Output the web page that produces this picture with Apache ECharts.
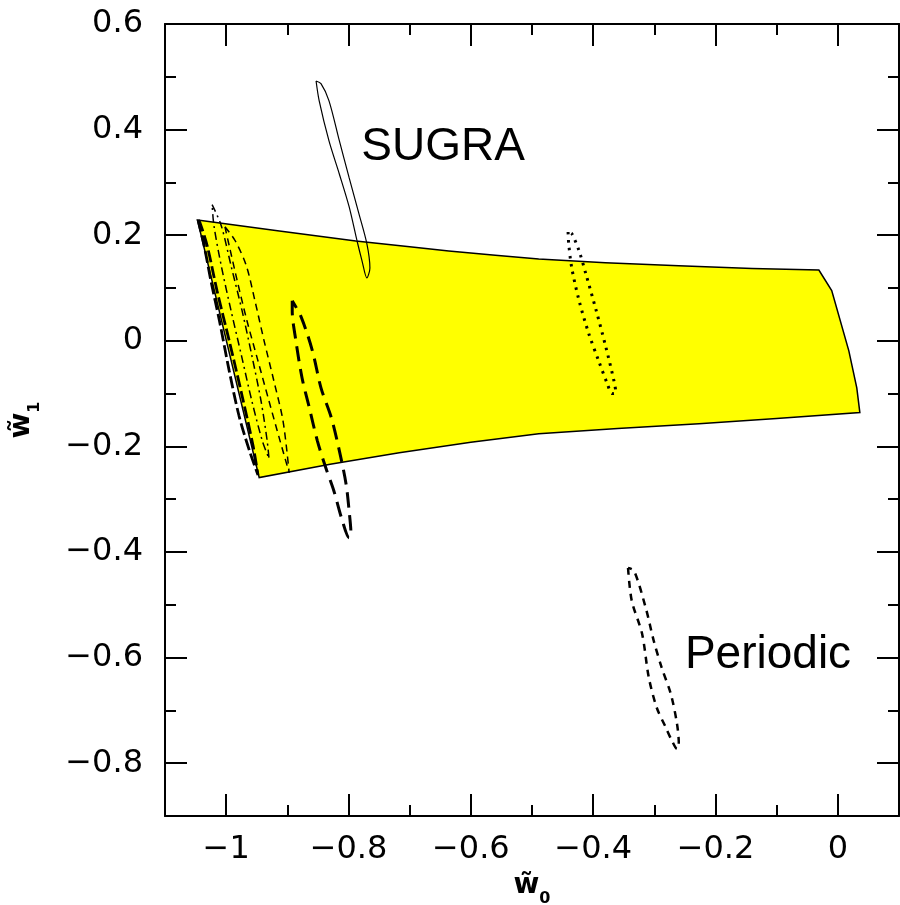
<!DOCTYPE html>
<html>
<head>
<meta charset="utf-8">
<script src="https://cdn.jsdelivr.net/npm/echarts@6/dist/echarts.min.js"></script>
<style>
  html, body { margin: 0; padding: 0; background: #fff; }
  #chart { width: 900px; height: 905px; }
</style>
</head>
<body>
<div id="chart"></div>
<script>
// Axis ranges and tick steps
const w0Range = [-1.1, 0.1];
const w1Range = [-0.9, 0.6];
const majorStep = 0.2;
const minorStep = 0.1;

// Allowed region (filled band)
const allowedRegion = [
  [-1.047, 0.229], [-0.913, 0.208], [-0.788, 0.189], [-0.700, 0.178],
  [-0.636, 0.170], [-0.560, 0.162], [-0.489, 0.155], [-0.380, 0.148],
  [-0.260, 0.142], [-0.140, 0.137], [-0.031, 0.134], [-0.010, 0.095],
  [0.018, -0.019], [0.031, -0.089], [0.036, -0.136], [-0.100, -0.147],
  [-0.227, -0.157], [-0.360, -0.166], [-0.489, -0.176], [-0.600, -0.192],
  [-0.717, -0.212], [-0.830, -0.234], [-0.946, -0.259]
];

// SUGRA contour (solid)
const sugraContour = [
  [-0.853, 0.492], [-0.848, 0.455], [-0.832, 0.379], [-0.815, 0.316],
  [-0.799, 0.254], [-0.786, 0.189], [-0.778, 0.152], [-0.770, 0.119],
  [-0.765, 0.138], [-0.770, 0.184], [-0.783, 0.241], [-0.799, 0.309],
  [-0.815, 0.379], [-0.832, 0.455], [-0.845, 0.487], [-0.853, 0.492]
];

// Dotted contour
const dottedContour = [
  [-0.441, 0.206], [-0.440, 0.184], [-0.435, 0.138], [-0.423, 0.076],
  [-0.407, 0.013], [-0.391, -0.038], [-0.377, -0.081], [-0.369, -0.100],
  [-0.363, -0.098], [-0.366, -0.076], [-0.379, -0.013], [-0.395, 0.057],
  [-0.412, 0.127], [-0.423, 0.170], [-0.435, 0.203], [-0.441, 0.206]
];

// Periodic contour (short dashes)
const periodicContour = [
  [-0.343, -0.430], [-0.337, -0.492], [-0.320, -0.555], [-0.309, -0.638],
  [-0.296, -0.695], [-0.281, -0.733], [-0.271, -0.758], [-0.263, -0.773],
  [-0.260, -0.763], [-0.263, -0.725], [-0.273, -0.669], [-0.288, -0.619],
  [-0.301, -0.568], [-0.314, -0.506], [-0.333, -0.436], [-0.343, -0.430]
];

// Long-dash contour
const longDashContour = [
  [-0.892, 0.076], [-0.892, 0.057], [-0.886, 0.000], [-0.876, -0.070],
  [-0.864, -0.127], [-0.851, -0.189], [-0.837, -0.241], [-0.824, -0.284],
  [-0.810, -0.341], [-0.799, -0.373], [-0.796, -0.366], [-0.799, -0.322],
  [-0.804, -0.271], [-0.815, -0.208], [-0.828, -0.146], [-0.845, -0.089],
  [-0.859, -0.019], [-0.877, 0.044], [-0.892, 0.076]
];

// Contours along the left edge of the band
const edgeContourA = [
  [-1.046, 0.229], [-1.036, 0.180], [-1.025, 0.114], [-1.011, 0.038],
  [-0.995, -0.057], [-0.979, -0.142], [-0.962, -0.208], [-0.948, -0.254],
  [-0.956, -0.199], [-0.974, -0.104], [-0.995, 0.000], [-1.015, 0.095],
  [-1.031, 0.180], [-1.043, 0.224], [-1.046, 0.229]
];
const edgeContourB = [
  [-1.023, 0.258], [-1.008, 0.218], [-0.992, 0.142], [-0.974, 0.057],
  [-0.958, -0.028], [-0.943, -0.114], [-0.933, -0.189], [-0.930, -0.223],
  [-0.941, -0.189], [-0.958, -0.114], [-0.975, -0.028], [-0.992, 0.057],
  [-1.008, 0.142], [-1.020, 0.218], [-1.023, 0.258]
];
const edgeContourC = [
  [-1.002, 0.216], [-0.985, 0.189], [-0.967, 0.142], [-0.953, 0.076],
  [-0.938, 0.000], [-0.922, -0.076], [-0.907, -0.152], [-0.897, -0.250],
  [-0.912, -0.189], [-0.930, -0.114], [-0.948, -0.038], [-0.966, 0.038],
  [-0.982, 0.114], [-0.995, 0.180], [-1.002, 0.216]
];

// Model labels
const modelLabels = [
  { name: 'SUGRA', value: [-0.779, 0.367] },
  { name: 'Periodic', value: [-0.250, -0.595] }
];

const BLACK = '#000';

function tickText(v) {
  const r = Math.round(v * 10) / 10;
  return r < 0 ? '\u2212' + String(-r) : String(r);
}

const nameRich = {
  w: { fontFamily: 'DejaVu Sans', fontWeight: 'bold', fontSize: 28, color: BLACK, verticalAlign: 'bottom', padding: [0, 0, 7, 0] },
  s: { fontFamily: 'DejaVu Sans', fontWeight: 'bold', fontSize: 16, color: BLACK, verticalAlign: 'bottom' }
};

function majorAxis(range, position, extra) {
  return Object.assign({
    type: 'value',
    position: position,
    min: range[0],
    max: range[1],
    minInterval: majorStep,
    maxInterval: majorStep,
    axisLine: { show: true, onZero: false, lineStyle: { color: BLACK, width: 2 } },
    axisTick: { show: true, inside: true, length: 22, lineStyle: { color: BLACK, width: 2 } },
    minorTick: { show: false },
    splitLine: { show: false },
    axisLabel: { show: false }
  }, extra || {});
}

function minorAxis(range, position) {
  return {
    type: 'value',
    position: position,
    min: range[0],
    max: range[1],
    interval: minorStep,
    axisLine: { show: false, onZero: false },
    axisTick: { show: true, inside: true, length: 11, lineStyle: { color: BLACK, width: 2 } },
    splitLine: { show: false },
    axisLabel: { show: false }
  };
}

function contour(data, width, type) {
  return {
    type: 'line',
    data: data,
    xAxisIndex: 0,
    yAxisIndex: 0,
    smooth: 0.3,
    symbol: 'none',
    silent: true,
    z: 3,
    lineStyle: { color: BLACK, width: width, type: type, cap: 'butt' }
  };
}

const chart = echarts.init(document.getElementById('chart'), null, { renderer: 'canvas' });

chart.setOption({
  animation: false,
  backgroundColor: '#fff',
  grid: { left: 165, right: 1, top: 24, bottom: 89, containLabel: false, outerBoundsMode: 'none' },
  xAxis: [
    majorAxis(w0Range, 'bottom', {
      axisLabel: {
        show: true, formatter: tickText, fontFamily: 'DejaVu Sans', fontSize: 32,
        color: BLACK, margin: 18, showMinLabel: false, showMaxLabel: false
      },
      name: '{w|w\u0303}{s|0}',
      nameLocation: 'middle',
      nameGap: 56,
      nameTextStyle: { rich: nameRich }
    }),
    minorAxis(w0Range, 'bottom'),
    majorAxis(w0Range, 'top'),
    minorAxis(w0Range, 'top')
  ],
  yAxis: [
    majorAxis(w1Range, 'left', {
      axisLabel: {
        show: true, formatter: tickText, fontFamily: 'DejaVu Sans', fontSize: 32,
        color: BLACK, margin: 22, showMinLabel: false, showMaxLabel: true
      },
      name: '{w|w\u0303}{s|1}',
      nameLocation: 'middle',
      nameGap: 122,
      nameTextStyle: { rich: nameRich }
    }),
    minorAxis(w1Range, 'left'),
    majorAxis(w1Range, 'right'),
    minorAxis(w1Range, 'right')
  ],
  series: [
    {
      type: 'custom',
      xAxisIndex: 0,
      yAxisIndex: 0,
      data: allowedRegion,
      encode: { x: 0, y: 1 },
      silent: true,
      z: 1,
      renderItem: function (params, api) {
        if (params.dataIndex !== 0) return null;
        const pts = allowedRegion.map(function (p) { return api.coord(p); });
        return {
          type: 'polygon',
          shape: { points: pts },
          style: { fill: '#ffff00', stroke: BLACK, lineWidth: 1.5 }
        };
      }
    },
    contour(sugraContour, 1.2, 'solid'),
    contour(dottedContour, 3, [2.5, 5.5]),
    contour(periodicContour, 2.5, [7, 6]),
    contour(longDashContour, 3, [15, 8]),
    contour(edgeContourA, 2.8, [12, 4]),
    contour(edgeContourB, 1.5, [8, 4, 2, 4]),
    contour(edgeContourC, 1.5, [7, 5]),
    {
      type: 'scatter',
      xAxisIndex: 0,
      yAxisIndex: 0,
      data: modelLabels,
      symbolSize: 0,
      silent: true,
      z: 5,
      itemStyle: { opacity: 1 },
      label: {
        show: true,
        position: 'right',
        distance: 0,
        formatter: '{b}',
        fontFamily: 'Liberation Sans',
        fontSize: 46,
        color: BLACK,
        opacity: 1
      }
    }
  ]
});
</script>
</body>
</html>
